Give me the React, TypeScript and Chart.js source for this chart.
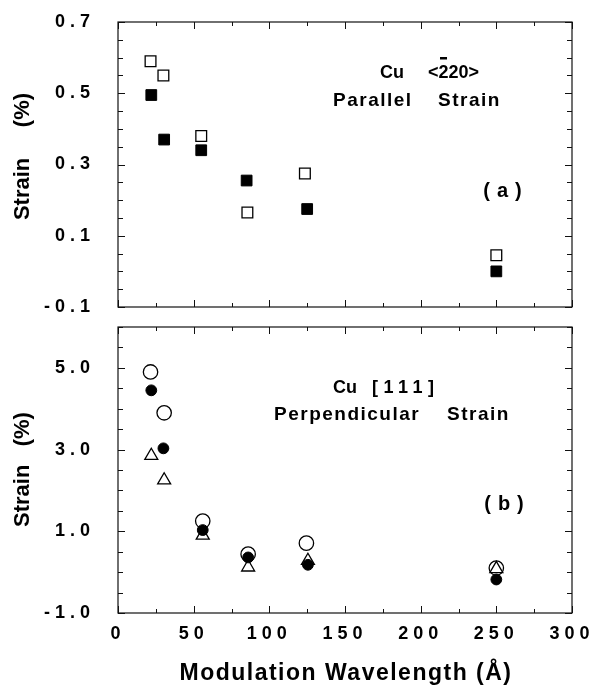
import React, { useEffect, useRef } from "react";
import { Chart, registerables } from "chart.js";

Chart.register(...registerables);

// ---- Data (a) Cu <2-20> parallel strain ----
const openSquareX = [21.5, 30, 55, 85.5, 123.5, 250];
const openSquareY = [0.59, 0.55, 0.38, 0.165, 0.275, 0.045];
const filledSquareX = [22, 30.5, 55, 85, 125, 250];
const filledSquareY = [0.495, 0.37, 0.34, 0.255, 0.175, 0.0];

// ---- Data (b) Cu [111] perpendicular strain ----
const openCircleX = [21.5, 30.5, 56, 86, 124.5, 250];
const openCircleY = [4.9, 3.9, 1.25, 0.44, 0.71, 0.1];
const filledCircleX = [22, 30, 56, 86, 125.5, 250];
const filledCircleY = [4.45, 3.03, 1.03, 0.36, 0.18, -0.18];
const triangleX = [22, 30.5, 56, 86, 125.5, 250];
const triangleY = [2.85, 2.25, 0.9, 0.12, 0.28, 0.08];

// ---- Axes ----
const xMin = 0;
const xMax = 300;
const xStep = 25;
const xLabelEvery = 50;
const topYMin = -0.1;
const topYMax = 0.7;
const topYStep = 0.05;
const topYLabels = ["0.7", "0.5", "0.3", "0.1", "-0.1"];
const botYMin = -1;
const botYMax = 6;
const botYStep = 0.5;
const botYLabels = ["5.0", "3.0", "1.0", "-1.0"];

const FONT = '"Liberation Sans", Arial, Helvetica, sans-serif';

const pts = (xs: number[], ys: number[]) => xs.map((x, i) => ({ x, y: ys[i] }));

type TextItem = {
  text: string;
  x: number;
  y: number;
  size: number;
  spacing?: number;
  align?: CanvasTextAlign;
  baseline?: CanvasTextBaseline;
  rotate?: boolean;
};

function makeFrame(texts: TextItem[], isMajorY: (v: number) => boolean, extra?: (ctx: CanvasRenderingContext2D) => void) {
  return {
    id: "frame",
    beforeDraw(chart: any) {
      (chart.ctx as any).letterSpacing = "5px";
    },
    afterDraw(chart: any) {
      const ctx: CanvasRenderingContext2D = chart.ctx;
      const a = chart.chartArea;
      ctx.save();
      (ctx as any).letterSpacing = "0px";
      ctx.strokeStyle = "#111";
      ctx.lineWidth = 1.2;
      ctx.strokeRect(a.left, a.top, a.right - a.left, a.bottom - a.top);
      ctx.lineWidth = 1;
      ctx.beginPath();
      const xs = chart.scales.x;
      xs.ticks.forEach((t: any) => {
        const px = Math.round(xs.getPixelForValue(t.value)) + 0.5;
        const major = Math.abs(Math.round(t.value)) % xLabelEvery === 0;
        const len = major ? 7 : 4;
        ctx.moveTo(px, a.bottom);
        ctx.lineTo(px, a.bottom - len);
        ctx.moveTo(px, a.top);
        ctx.lineTo(px, a.top + len);
      });
      const ys = chart.scales.y;
      ys.ticks.forEach((t: any) => {
        const py = Math.round(ys.getPixelForValue(t.value)) + 0.5;
        const len = isMajorY(t.value) ? 7 : 5;
        ctx.moveTo(a.left, py);
        ctx.lineTo(a.left + len, py);
        ctx.moveTo(a.right, py);
        ctx.lineTo(a.right - len, py);
      });
      ctx.stroke();

      ctx.fillStyle = "#000";
      texts.forEach((t) => {
        ctx.save();
        ctx.font = `bold ${t.size}px ${FONT}`;
        (ctx as any).letterSpacing = `${t.spacing || 0}px`;
        ctx.textAlign = t.align || "left";
        ctx.textBaseline = t.baseline || "alphabetic";
        if (t.rotate) {
          ctx.translate(t.x, t.y);
          ctx.rotate(-Math.PI / 2);
          ctx.fillText(t.text, 0, 0);
        } else {
          ctx.fillText(t.text, t.x, t.y);
        }
        ctx.restore();
      });
      if (extra) extra(ctx);
      ctx.restore();
    },
  };
}

const topMajor = (v: number) => topYLabels.includes((Math.round(v * 100) / 100).toFixed(2).replace(/0$/, ""));
const botMajor = (v: number) => botYLabels.includes((Math.round(v * 10) / 10).toFixed(1));

const tickFont = { family: FONT, size: 18, weight: "bold" as const, lineHeight: 1 };

function xScale(showLabels: boolean, height: number) {
  return {
    type: "linear" as const,
    min: xMin,
    max: xMax,
    grid: { display: true, drawOnChartArea: false, drawTicks: true, tickLength: 12, color: "rgba(0,0,0,0)" },
    border: { display: false },
    ticks: {
      display: showLabels,
      stepSize: xStep,
      autoSkip: false,
      maxRotation: 0,
      minRotation: 0,
      padding: 0,
      color: "#000",
      font: tickFont,
      callback: (v: any) => (Math.round(v) % xLabelEvery === 0 ? String(Math.round(v)) : ""),
    },
    afterFit: (s: any) => {
      s.height = height;
    },
  };
}

function yScale(min: number, max: number, step: number, isMajor: (v: number) => boolean) {
  return {
    type: "linear" as const,
    min,
    max,
    grid: { display: true, drawOnChartArea: false, drawTicks: true, tickLength: 23, color: "rgba(0,0,0,0)" },
    border: { display: false },
    ticks: {
      stepSize: step,
      autoSkip: false,
      padding: 0,
      color: "#000",
      font: tickFont,
      callback: (v: any) => (isMajor(Number(v)) ? (Math.round(Number(v) * 10) / 10).toFixed(1) : ""),
    },
    afterFit: (s: any) => {
      s.width = 118;
    },
  };
}

export default function App() {
  const topRef = useRef<HTMLCanvasElement>(null);
  const botRef = useRef<HTMLCanvasElement>(null);

  useEffect(() => {
    const topTexts: TextItem[] = [
      { text: "Cu", x: 380, y: 78, size: 18 },
      { text: "<220>", x: 428, y: 78, size: 18 },
      { text: "Parallel", x: 333, y: 106, size: 19, spacing: 1.5 },
      { text: "Strain", x: 438, y: 106, size: 19, spacing: 1.5 },
      { text: "(a)", x: 506, y: 191, size: 20, spacing: 7, align: "center", baseline: "middle" },
      { text: "Strain     (%)", x: 23, y: 156.5, size: 22, align: "center", baseline: "middle", rotate: true },
    ];
    const overbar = (ctx: CanvasRenderingContext2D) => {
      ctx.font = `bold 18px ${FONT}`;
      (ctx as any).letterSpacing = "0px";
      const wLt = ctx.measureText("<").width;
      const w2 = ctx.measureText("2").width;
      const cx = 428 + wLt + w2 / 2;
      ctx.fillRect(cx - 3.5, 57, 7, 2.5);
    };
    const topChart = new Chart(topRef.current!, {
      type: "scatter",
      data: {
        datasets: [
          {
            label: "filled",
            data: pts(filledSquareX, filledSquareY),
            pointStyle: "rect",
            pointRadius: 7.6,
            backgroundColor: "#000",
            borderColor: "#000",
            borderWidth: 1,
            order: 0,
          },
          {
            label: "open",
            data: pts(openSquareX, openSquareY),
            pointStyle: "rect",
            pointRadius: 7.6,
            backgroundColor: "#fff",
            borderColor: "#000",
            borderWidth: 1.3,
            order: 1,
          },
        ],
      },
      options: {
        animation: false,
        responsive: false,
        devicePixelRatio: 1,
        layout: { padding: { top: 22, right: 24, bottom: 9, left: 0 } },
        plugins: { legend: { display: false }, tooltip: { enabled: false } },
        scales: {
          x: xScale(false, 0),
          y: yScale(topYMin, topYMax, topYStep, topMajor),
        },
      },
      plugins: [makeFrame(topTexts, topMajor, overbar)],
    } as any);

    const off = 316;
    const botTexts: TextItem[] = [
      { text: "Cu", x: 333, y: 393 - off, size: 18 },
      { text: "[111]", x: 372, y: 393 - off, size: 18, spacing: 5.5 },
      { text: "Perpendicular", x: 274, y: 420 - off, size: 19, spacing: 1.5 },
      { text: "Strain", x: 447, y: 420 - off, size: 19, spacing: 1.5 },
      { text: "(b)", x: 507.5, y: 504 - off, size: 20, spacing: 7, align: "center", baseline: "middle" },
      { text: "Strain   (%)", x: 23, y: 469.5 - off, size: 22, align: "center", baseline: "middle", rotate: true },
      { text: "Modulation Wavelength (Å)", x: 346, y: 680 - off, size: 23, spacing: 1.5, align: "center" },
    ];
    const botChart = new Chart(botRef.current!, {
      type: "scatter",
      data: {
        datasets: [
          {
            label: "filled circles",
            data: pts(filledCircleX, filledCircleY),
            pointStyle: "circle",
            pointRadius: 5.4,
            backgroundColor: "#000",
            borderColor: "#000",
            borderWidth: 1,
            order: 0,
          },
          {
            label: "triangles",
            data: pts(triangleX, triangleY),
            pointStyle: "triangle",
            pointRadius: 7.5,
            backgroundColor: "#fff",
            borderColor: "#000",
            borderWidth: 1.3,
            order: 1,
          },
          {
            label: "open circles",
            data: pts(openCircleX, openCircleY),
            pointStyle: "circle",
            pointRadius: 7.2,
            backgroundColor: "#fff",
            borderColor: "#000",
            borderWidth: 1.3,
            order: 2,
          },
        ],
      },
      options: {
        animation: false,
        responsive: false,
        devicePixelRatio: 1,
        layout: { padding: { top: 11, right: 24, bottom: 0, left: 0 } },
        plugins: { legend: { display: false }, tooltip: { enabled: false } },
        scales: {
          x: xScale(true, 72),
          y: yScale(botYMin, botYMax, botYStep, botMajor),
        },
      },
      plugins: [makeFrame(botTexts, botMajor)],
    } as any);

    return () => {
      topChart.destroy();
      botChart.destroy();
    };
  }, []);

  return (
    <div style={{ position: "absolute", left: 0, top: 0, width: 596, height: 685, background: "#fff" }}>
      <canvas ref={topRef} width={596} height={316} style={{ display: "block", width: 596, height: 316 }} />
      <canvas ref={botRef} width={596} height={369} style={{ display: "block", width: 596, height: 369 }} />
    </div>
  );
}
